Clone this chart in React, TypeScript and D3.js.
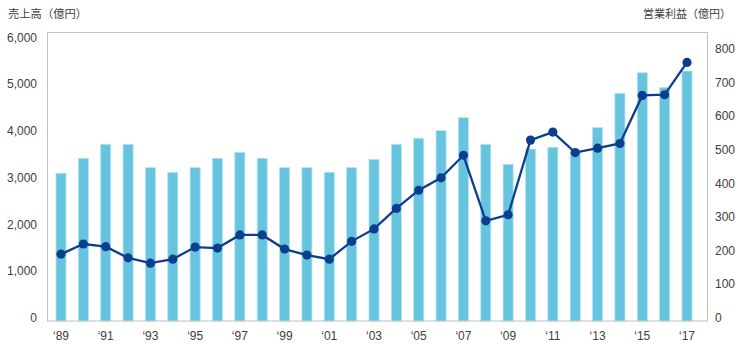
import React from "react";
import * as d3 from "d3";

const years = d3.range(1989, 2018).map((y) => String(y));
const sales = [3095, 3416, 3715, 3715, 3215, 3116, 3215, 3416, 3544, 3416, 3215, 3215, 3116, 3215, 3394,
  3715, 3844, 4007, 4285, 3715, 3288, 3615, 3651, 3540, 4071, 4806, 5247, 4926, 5283];
const profit = [190, 220, 212, 179, 163, 175, 211, 208, 247, 247, 205, 187, 175, 228, 265,
  326, 380, 417, 484, 289, 307, 529, 553, 492, 505, 519, 662, 664, 760];
const leftTicks = [0, 1000, 2000, 3000, 4000, 5000, 6000];
const rightTicks = [0, 100, 200, 300, 400, 500, 600, 700, 800];
const leftTitle = "売上高（億円）";
const rightTitle = "営業利益（億円）";

export default function App() {
  const W = 739, H = 346;
  const frame = { left: 47.5, top: 32.5, right: 707.5, bottom: 321 };
  const x = d3.scalePoint<string>().domain(years).range([61, 687]);
  const step = x.step();
  const barW = step * 0.45;
  const yL = d3.scaleLinear().domain([0, 6000]).range([318, 37.5]);
  const yR = d3.scaleLinear().domain([0, 800]).range([318, 49]);
  const line = d3.line<number>().x((_, i) => x(years[i])!).y((d) => yR(d));
  const font = "'Liberation Sans', Arial, sans-serif";
  const jfont = "'Noto Sans CJK JP', sans-serif";
  const txt = "#404040";
  return (
    <svg width={W} height={H} style={{ position: "absolute", left: 0, top: 0, display: "block" }}>
      <rect x={0} y={0} width={W} height={H} fill="#fff" />
      {sales.map((v, i) => (
        <rect key={i} x={x(years[i])! - barW / 2} y={yL(v)} width={barW} height={frame.bottom - yL(v)}
          fill="#67c4de" stroke="#b8e2ee" strokeWidth={0.8} />
      ))}
      <rect x={frame.left} y={frame.top} width={frame.right - frame.left} height={frame.bottom - frame.top}
        fill="none" stroke="#c0c0c0" strokeWidth={1} />
      <path d={line(profit)!} fill="none" stroke="#0b3f8e" strokeWidth={2.3} />
      {profit.map((v, i) => (
        <circle key={i} cx={x(years[i])!} cy={yR(v)} r={4.6} fill="#0b3f8e" />
      ))}
      {leftTicks.map((t) => (
        <text key={t} x={37} y={yL(t)} textAnchor="end" dominantBaseline="central" fontSize={12} fontFamily={font} fill={txt}>
          {d3.format(",")(t)}
        </text>
      ))}
      {rightTicks.map((t) => (
        <text key={t} x={715} y={yR(t)} textAnchor="start" dominantBaseline="central" fontSize={12} fontFamily={font} fill={txt}>
          {t}
        </text>
      ))}
      {years.map((yr, i) => i % 2 === 0 ? (
        <text key={yr} x={x(yr)!} y={336} textAnchor="middle" dominantBaseline="central" fontSize={12} fontFamily={font} fill={txt}>
          {"‘" + yr.slice(2)}
        </text>
      ) : null)}
      <text x={8} y={13} dominantBaseline="central" fontSize={11.3} fontFamily={jfont} fill={txt}>{leftTitle}</text>
      <text x={731} y={13} textAnchor="end" dominantBaseline="central" fontSize={11} fontFamily={jfont} fill={txt}>{rightTitle}</text>
    </svg>
  );
}
